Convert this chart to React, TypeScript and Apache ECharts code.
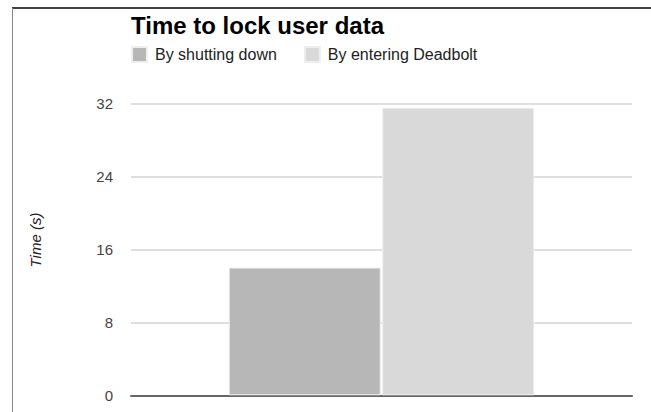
import React, { useEffect, useRef } from "react";
import * as echarts from "echarts";

const categories = [""];
const seriesNames = ["By shutting down", "By entering Deadbolt"];
const shuttingDown = [14];
const enteringDeadbolt = [31.5];
const yTicks = [0, 8, 16, 24, 32];
const colors = ["#b7b7b7", "#d9d9d9"];

export default function App() {
  const ref = useRef<HTMLDivElement>(null);
  useEffect(() => {
    if (!ref.current) return;
    const chart = echarts.init(ref.current, null, { renderer: "svg" });
    const font = "'Liberation Sans', Arial, sans-serif";
    chart.setOption({
      animation: false,
      backgroundColor: "#ffffff",
      textStyle: { fontFamily: font },
      title: {
        text: "Time to lock user data",
        left: 131,
        top: 13,
        padding: 0,
        textStyle: { fontFamily: font, fontSize: 24, fontWeight: "bold", color: "#000" },
      },
      legend: {
        left: 126,
        top: 41,
        itemWidth: 15,
        itemHeight: 15,
        itemGap: 27,
        icon: "rect",
        data: seriesNames,
        textStyle: { fontFamily: font, fontSize: 16, color: "#222", padding: [0, 0, 0, 3] },
      },
      grid: { left: 131, right: 19, top: 103.3, bottom: 16.7, containLabel: false },
      xAxis: {
        type: "category",
        data: categories,
        axisLine: { show: true, lineStyle: { color: "#666", width: 2 } },
        axisTick: { show: false },
        axisLabel: { show: false },
      },
      yAxis: {
        type: "value",
        min: yTicks[0],
        max: yTicks[yTicks.length - 1],
        interval: 8,
        axisLine: { show: false },
        axisTick: { show: false },
        axisLabel: { fontFamily: font, fontSize: 15, color: "#444", margin: 18 },
        splitLine: { lineStyle: { color: "#d4d4d4", width: 1.5 } },
      },
      series: [
        {
          name: seriesNames[0],
          type: "bar",
          data: shuttingDown,
          barWidth: 152,
          barGap: "1%",
          itemStyle: { color: colors[0], borderColor: "#eeeeee", borderWidth: 1 },
        },
        {
          name: seriesNames[1],
          type: "bar",
          data: enteringDeadbolt,
          barWidth: 152,
          barGap: "1%",
          itemStyle: { color: colors[1], borderColor: "#eeeeee", borderWidth: 1 },
        },
      ],
      graphic: [
        {
          type: "text",
          x: 35,
          y: 240,
          rotation: Math.PI / 2,
          style: {
            text: "Time (s)",
            fontFamily: font,
            fontSize: 15,
            fontStyle: "italic",
            fill: "#222",
            align: "center",
            verticalAlign: "middle",
          },
        },
        {
          type: "line",
          shape: { x1: 12, y1: 8, x2: 651, y2: 8 },
          style: { stroke: "#000", lineWidth: 1.5 },
        },
        {
          type: "line",
          shape: { x1: 12.5, y1: 8, x2: 12.5, y2: 412 },
          style: { stroke: "#888", lineWidth: 1 },
        },
      ],
    });
    return () => chart.dispose();
  }, []);
  return (
    <div
      ref={ref}
      style={{ position: "fixed", left: 0, top: 0, width: 651, height: 412 }}
    />
  );
}
